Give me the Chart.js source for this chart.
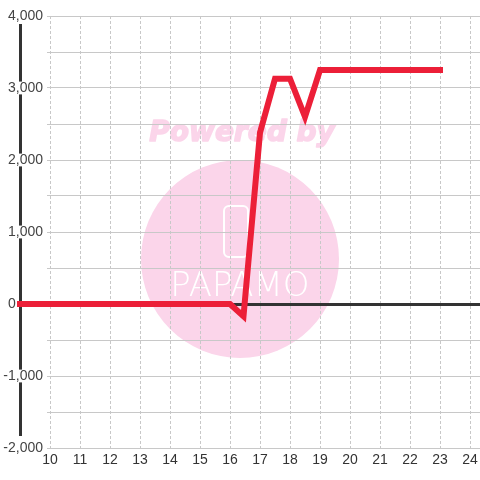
<!DOCTYPE html>
<html>
<head>
<meta charset="utf-8">
<script src="https://cdn.jsdelivr.net/npm/chart.js@4.4.1/dist/chart.umd.min.js"></script>
<style>
  html, body { margin: 0; padding: 0; background: #fff; }
</style>
</head>
<body>
<canvas id="chart" width="480" height="480"></canvas>
<script>
// data (hour of day -> value)
const hours = [9, 16, 16.45, 17, 17.5, 18, 18.5, 19, 23];
const values = [0, 0, -170, 2380, 3130, 3130, 2600, 3250, 3250];

const xTicks = [10, 11, 12, 13, 14, 15, 16, 17, 18, 19, 20, 21, 22, 23, 24];
const yTicks = [-2000, -1500, -1000, -500, 0, 500, 1000, 1500, 2000, 2500, 3000, 3500, 4000];

function yLabel(v) {
  if (v % 1000 !== 0) return '';
  // the zero label sits left of the axis line in the original
  if (v === 0) return '0       ';
  return v.toLocaleString('en-US');
}

// watermark + the thick dark y axis line, drawn under the scales
const backdrop = {
  id: 'backdrop',
  beforeDraw(chart) {
    const ctx = chart.ctx;
    const y = chart.scales.y;
    ctx.save();
    ctx.fillStyle = '#fbd5ea';
    ctx.beginPath();
    ctx.arc(240, 259, 99, 0, Math.PI * 2);
    ctx.fill();

    ctx.font = 'italic bold 28px "DejaVu Sans"';
    ctx.textAlign = 'center';
    ctx.textBaseline = 'middle';
    ctx.strokeStyle = '#fbd5ea';
    ctx.lineWidth = 1.5;
    ctx.lineJoin = 'round';
    ctx.strokeText('Powered by', 242, 134);
    ctx.fillText('Powered by', 242, 134);

    ctx.strokeStyle = '#fff';
    ctx.lineWidth = 2;
    ctx.beginPath();
    ctx.roundRect(224, 206, 24, 51, 5);
    ctx.stroke();
    ctx.fillStyle = '#fff';
    ctx.font = '200 34px "DejaVu Sans"';
    ctx.fillText('PAPAMO', 240, 287);

    ctx.strokeStyle = '#333';
    ctx.lineWidth = 3;
    ctx.beginPath();
    ctx.moveTo(20.5, y.top + 8);
    ctx.lineTo(20.5, y.bottom - 12);
    ctx.stroke();
    ctx.restore();
  }
};

new Chart(document.getElementById('chart'), {
  type: 'line',
  data: {
    datasets: [{
      data: hours.map((h, i) => ({ x: h, y: values[i] })),
      borderColor: '#ec1f38',
      borderWidth: 6,
      borderCapStyle: 'square',
      borderJoinStyle: 'miter',
      pointRadius: 0,
      tension: 0,
      clip: false
    }]
  },
  options: {
    responsive: false,
    animation: false,
    layout: { padding: { top: 16, left: 0, right: 0, bottom: 0 } },
    plugins: { legend: { display: false }, tooltip: { enabled: false } },
    scales: {
      x: {
        type: 'linear',
        min: 9.9,
        max: 24.3333,
        afterBuildTicks: s => { s.ticks = xTicks.map(v => ({ value: v })); },
        afterFit: s => { s.height = 32; },
        border: { display: false, dash: [3, 2] },
        grid: { color: '#c8c8c8', lineWidth: 1, tickLength: 4, tickColor: 'rgba(0,0,0,0)' },
        ticks: {
          padding: 0,
          color: '#333',
          maxRotation: 0,
          font: { family: 'Liberation Sans', size: 14 },
          callback: v => String(v)
        }
      },
      y: {
        min: -2000,
        max: 4000,
        afterBuildTicks: s => { s.ticks = yTicks.map(v => ({ value: v })); },
        afterFit: s => { s.width = 47; },
        border: { display: false },
        grid: {
          drawTicks: false,
          color: c => (c.tick && c.tick.value === 0) ? '#333' : '#c8c8c8',
          lineWidth: c => (c.tick && c.tick.value === 0) ? 3 : 1
        },
        ticks: {
          padding: 4,
          color: '#444',
          autoSkip: false,
          font: { family: 'Liberation Sans', size: 14 },
          callback: v => yLabel(v),
          showLabelBackdrop: true,
          backdropColor: c => (c.tick && c.tick.value === 0) ? 'rgba(0,0,0,0)' : '#fff',
          backdropPadding: { top: -2, bottom: -2, left: 0, right: 0 }
        }
      }
    }
  },
  plugins: [backdrop]
});
</script>
</body>
</html>
